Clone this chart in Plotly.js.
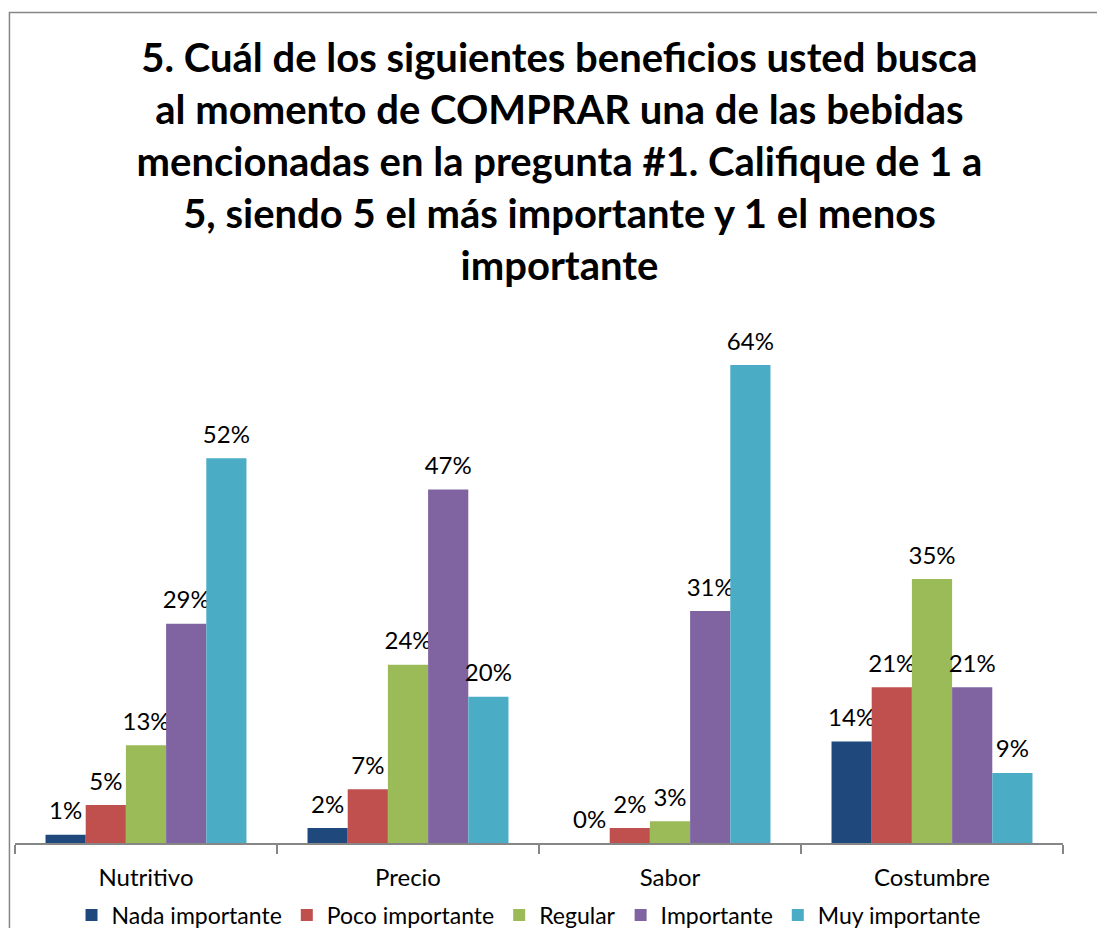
<!DOCTYPE html>
<html>
<head>
<meta charset="utf-8">
<script src="https://cdn.plot.ly/plotly-3.0.1.min.js"></script>
<style>
  html, body { margin: 0; padding: 0; background: #ffffff; }
  #chart { width: 1097px; height: 928px; }
</style>
</head>
<body>
<div id="chart"></div>
<script>
const categories = ["Nutritivo", "Precio", "Sabor", "Costumbre"];
const seriesNames = ["Nada importante", "Poco importante", "Regular", "Importante", "Muy importante"];
const nadaImportante = [1.1, 2.0, 0.0, 13.6];
const pocoImportante = [5.1, 7.2, 2.0, 20.9];
const regular = [13.1, 23.9, 2.9, 35.4];
const importante = [29.4, 47.4, 31.1, 20.9];
const muyImportante = [51.6, 19.6, 64.1, 9.4];
const colors = ["#1F497D", "#C0504D", "#9BBB59", "#8064A2", "#4BACC6"];
const titleText = "5. Cuál de los siguientes beneficios usted busca<br>al momento de COMPRAR una de las bebidas<br>mencionadas en la pregunta #1. Califique de 1 a<br>5, siendo 5 el más importante y 1 el menos<br>importante";

const FONT = "Lato, 'Open Sans', sans-serif";
const allSeries = [nadaImportante, pocoImportante, regular, importante, muyImportante];

const data = allSeries.map((vals, i) => ({
  type: "bar",
  name: seriesNames[i],
  x: categories,
  y: vals,
  marker: { color: colors[i], line: { width: 0 } },
  texttemplate: "<span style='font-size:24px'>%{y:.0f}%</span><br>\u00A0",
  textposition: "outside",
  constraintext: "none",
  textfont: { family: FONT, size: 8, color: "#000000" },
  cliponaxis: false,
  hoverinfo: "x+y+name"
}));

const layout = {
  width: 1097,
  height: 928,
  margin: { l: 15, r: 34, t: 321, b: 85, autoexpand: false },
  paper_bgcolor: "#ffffff",
  plot_bgcolor: "#ffffff",
  font: { family: FONT, size: 24, color: "#000000" },
  title: {
    text: titleText,
    font: { family: FONT, size: 40, color: "#000000", weight: "bold" },
    x: 0.51,
    xanchor: "center",
    y: 0.922,
    yanchor: "top",
    yref: "container"
  },
  barmode: "group",
  bargap: 0.233,
  bargroupgap: 0,
  showlegend: true,
  legend: {
    orientation: "h",
    x: 0.49,
    xanchor: "center",
    yref: "container",
    y: 0.014,
    yanchor: "middle",
    font: { family: FONT, size: 23, color: "#000000" },
    itemwidth: 30,
    traceorder: "normal"
  },
  xaxis: {
    type: "category",
    showline: true,
    linecolor: "#868686",
    linewidth: 1.5,
    ticks: "outside",
    tickson: "boundaries",
    ticklen: 9,
    tickcolor: "#868686",
    tickwidth: 1.5,
    showgrid: false,
    zeroline: false,
    tickfont: { family: FONT, size: 24, color: "#000000" },
    ticklabelstandoff: 12
  },
  yaxis: {
    visible: false,
    range: [0, 70],
    showgrid: false,
    zeroline: false
  },
  shapes: [{
    type: "rect",
    xref: "paper", yref: "paper",
    x0: -0.0053, x1: 1.2,
    y0: -0.4, y1: 1.591,
    line: { color: "#868686", width: 1.5 },
    fillcolor: "rgba(0,0,0,0)",
    layer: "below"
  }]
};

Plotly.newPlot("chart", data, layout, { displayModeBar: false, staticPlot: false });
</script>
</body>
</html>
